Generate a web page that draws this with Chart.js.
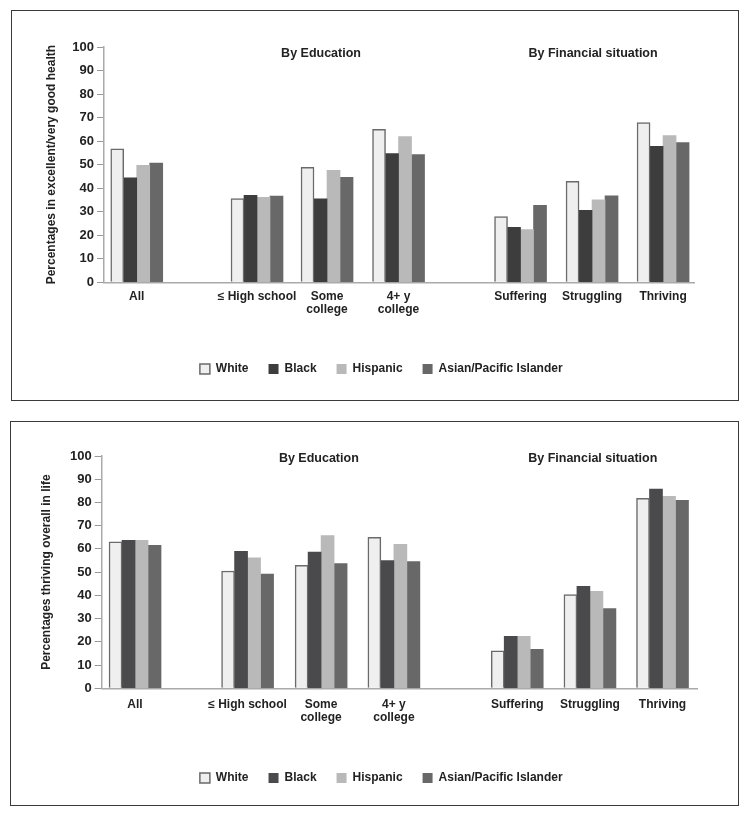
<!DOCTYPE html>
<html>
<head>
<meta charset="utf-8">
<script src="https://cdn.jsdelivr.net/npm/chart.js@4"></script>
<style>
  body { margin: 0; background: #fff; }
  .box { position: absolute; border: 1px solid #3a3a3a; background: #fff; }
  #box1 { left: 11px; top: 10px; width: 726px; height: 389px; }
  #box2 { left: 10px; top: 421px; width: 727px; height: 383px; }
  canvas { display: block; }
</style>
</head>
<body>
<div class="box" id="box1"><canvas id="healthChart" width="726" height="389"></canvas></div>
<div class="box" id="box2"><canvas id="thriveChart" width="727" height="383"></canvas></div>
<script>
// categories and series
const categories = ["All", "\u2264 High school", ["Some", "college"], ["4+ y", "college"], "Suffering", "Struggling", "Thriving"];
const seriesNames = ["White", "Black", "Hispanic", "Asian/Pacific Islander"];
const yTicks = [0, 10, 20, 30, 40, 50, 60, 70, 80, 90, 100];
const headings = ["By Education", "By Financial situation"];

// top chart: excellent / very good health
const healthWhite = [56.7, 35.6, 48.9, 65.0, 27.9, 42.9, 67.9];
const healthBlack = [44.4, 37.0, 35.5, 54.7, 23.4, 30.6, 57.8];
const healthHispanic = [49.7, 36.1, 47.6, 61.9, 22.4, 35.1, 62.4];
const healthAsian = [50.7, 36.6, 44.6, 54.3, 32.7, 36.7, 59.4];

// bottom chart: thriving overall in life
const thriveWhite = [63.1, 50.5, 52.9, 65.0, 16.1, 40.3, 81.8];
const thriveBlack = [63.7, 59.0, 58.6, 55.0, 22.4, 43.9, 85.8];
const thriveHispanic = [63.7, 56.2, 65.7, 62.0, 22.4, 41.7, 82.6];
const thriveAsian = [61.5, 49.2, 53.7, 54.5, 16.8, 34.3, 80.9];

// layout: where each group sits along the x axis (groups are spaced unevenly)
const groupPos1 = [0, 1.687, 2.669, 3.672, 5.383, 6.386, 7.382];
const groupPos2 = [0, 1.543, 2.551, 3.549, 5.240, 6.237, 7.232];

Chart.defaults.font.family = "'Liberation Sans', Arial, sans-serif";
Chart.defaults.font.weight = "bold";
Chart.defaults.color = "#222";

const headingPlugin = {
  id: "headings",
  afterLayout(chart) {
    // legend sits a bit right of the plot centre in the original
    let o = chart.options.plugins.headings;
    chart.legend.left += o.legendShift;
    chart.legend.right += o.legendShift;
  },
  afterDraw(chart) {
    let o = chart.options.plugins.headings;
    let ctx = chart.ctx;
    let xs = chart.scales.x, ys = chart.scales.y;
    ctx.save();
    ctx.font = "bold 12.5px " + Chart.defaults.font.family;
    ctx.fillStyle = "#222";
    ctx.textAlign = "center";
    ctx.textBaseline = "middle";
    headings.forEach((h, i) => {
      ctx.fillText(h, xs.getPixelForValue(o.at[i]), ys.getPixelForValue(o.yv));
    });
    ctx.restore();
  }
};

function makeChart(id, p) {
  let colors = ["#efefef", p.black, "#b9b9b9", "#686868"];
  let values = p.values;
  let datasets = seriesNames.map((name, s) => ({
    label: name,
    data: values[s].map((v, i) => ({ x: p.pos[i], y: v })),
    backgroundColor: colors[s],
    borderColor: s == 0 ? "#6a6a6a" : colors[s],
    borderWidth: s == 0 ? 1.5 : 0,
    barThickness: 13
  }));
  return new Chart(document.getElementById(id), {
    type: "bar",
    data: { datasets: datasets },
    plugins: [headingPlugin],
    options: {
      responsive: false,
      animation: false,
      layout: { padding: p.padding },
      plugins: {
        tooltip: { enabled: false },
        headings: { at: p.headAt, yv: p.headY, legendShift: p.legendShift },
        legend: {
          position: "bottom",
          labels: {
            boxWidth: 10,
            boxHeight: 10,
            padding: 20,
            font: { size: 12, weight: "bold" },
            color: "#222"
          }
        }
      },
      scales: {
        x: {
          type: "linear",
          offset: false,
          min: p.range[0],
          max: p.range[1],
          grid: { display: false, drawTicks: false },
          border: { display: true, color: "#aaa", width: 1.5 },
          afterBuildTicks: (scale) => {
            scale.ticks = p.pos.map((v) => ({ value: v }));
          },
          afterFit: (scale) => { scale.height = p.xHeight; },
          ticks: {
            autoSkip: false,
            maxRotation: 0,
            padding: p.xPad,
            font: { size: 12, weight: "bold", lineHeight: "13px" },
            color: "#222",
            callback: (v, i) => categories[i]
          }
        },
        y: {
          min: yTicks[0],
          max: yTicks[yTicks.length - 1],
          afterBuildTicks: (scale) => {
            scale.ticks = yTicks.map((v) => ({ value: v }));
          },
          afterFit: (scale) => { scale.width = p.yWidth; },
          grid: { drawOnChartArea: false, drawTicks: true, tickLength: 7, color: "#999" },
          border: { display: true, color: "#aaa", width: 1.5 },
          ticks: { padding: 3, font: { size: 13, weight: "bold" }, color: "#222" },
          title: {
            display: true,
            text: p.title,
            padding: 0,
            font: { size: 12, weight: "bold" },
            color: "#222"
          }
        }
      }
    }
  });
}

makeChart("healthChart", {
  values: [healthWhite, healthBlack, healthHispanic, healthAsian],
  pos: groupPos1,
  range: [-0.459, 7.816],
  black: "#3d3d3d",
  title: "Percentages in excellent/very good health",
  padding: { left: 32.5, right: 44, top: 36, bottom: 15 },
  yWidth: 59.5,
  xHeight: 60.7,
  xPad: 8,
  headAt: [2.585, 6.40],
  headY: 97.4,
  legendShift: 12
});

makeChart("thriveChart", {
  values: [thriveWhite, thriveBlack, thriveHispanic, thriveAsian],
  pos: groupPos2,
  range: [-0.457, 7.705],
  black: "#4a4a4c",
  title: "Percentages thriving overall in life",
  padding: { left: 28.5, right: 41, top: 34, bottom: 11 },
  yWidth: 62.2,
  xHeight: 63.7,
  xPad: 10,
  headAt: [2.52, 6.276],
  headY: 98.7,
  legendShift: 13
});
</script>
</body>
</html>
